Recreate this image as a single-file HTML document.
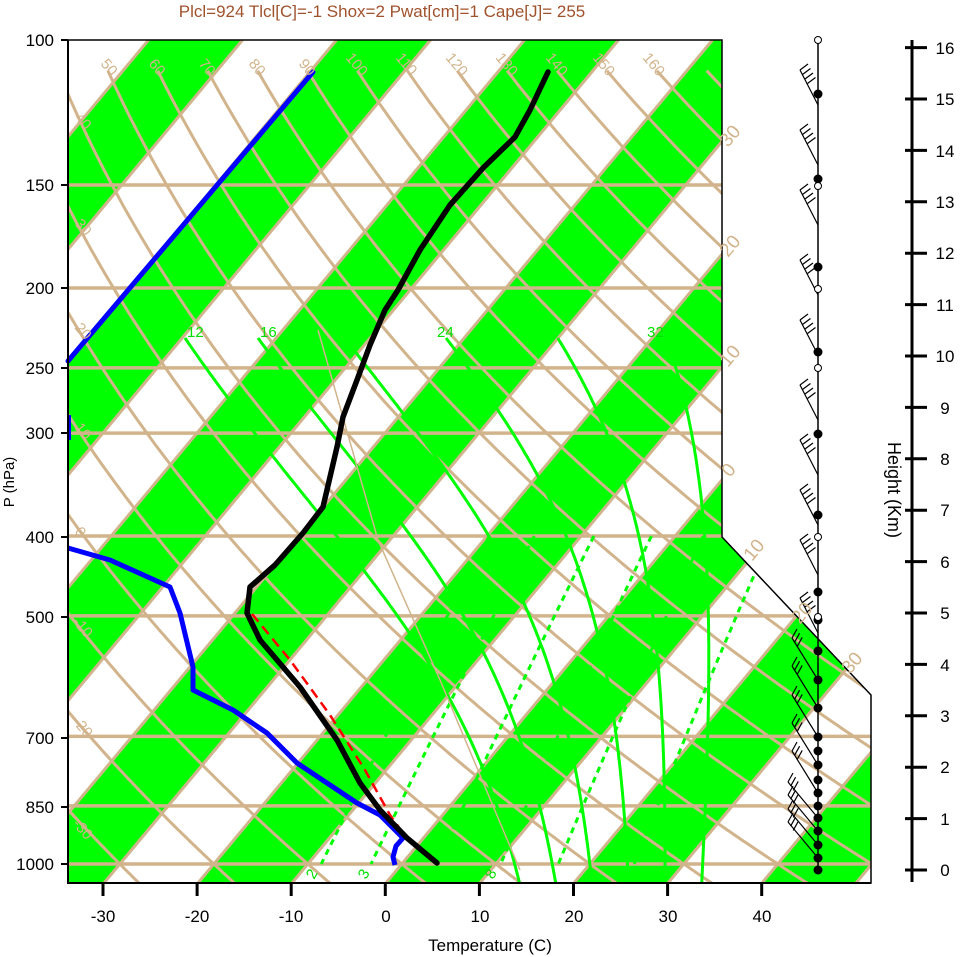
<!DOCTYPE html>
<html><head><meta charset="utf-8"><style>
html,body{margin:0;padding:0;background:#fff;width:961px;height:957px;overflow:hidden}
svg{display:block;font-family:"Liberation Sans",Arial,sans-serif}
</style></head><body>
<svg id="s" width="961" height="957" viewBox="0 0 961 957" xmlns="http://www.w3.org/2000/svg">
<defs><clipPath id="cp"><polygon points="68,40 722,40 722,537 871,695 871,883 68,883"/></clipPath></defs>
<g id="bg" clip-path="url(#cp)"></g>
<g id="fg"></g>
<text x="382" y="17" fill="#a0522d" font-size="17" text-anchor="middle">Plcl=924 Tlcl[C]=-1 Shox=2 Pwat[cm]=1 Cape[J]= 255</text>
<g font-size="17" fill="#000" text-anchor="end">
<text x="54" y="46">100</text><text x="54" y="191">150</text><text x="54" y="294">200</text>
<text x="54" y="374">250</text><text x="54" y="439">300</text><text x="54" y="543">400</text>
<text x="54" y="623">500</text><text x="54" y="744">700</text><text x="54" y="813">850</text>
<text x="54" y="870">1000</text></g>
<g font-size="17" fill="#000" text-anchor="middle">
<text x="103" y="922">-30</text><text x="197" y="922">-20</text><text x="291" y="922">-10</text>
<text x="386" y="922">0</text><text x="480" y="922">10</text><text x="574" y="922">20</text>
<text x="668" y="922">30</text><text x="762" y="922">40</text></g>
<text x="490" y="951" font-size="17" text-anchor="middle">Temperature (C)</text>
<text transform="translate(14,482) rotate(-90)" font-size="15" text-anchor="middle">P (hPa)</text>
<text transform="translate(888,490) rotate(90)" font-size="18" text-anchor="middle">Height (Km)</text>
<g font-size="17" fill="#000" text-anchor="middle">
<text x="945" y="876">0</text><text x="945" y="825">1</text><text x="945" y="773">2</text>
<text x="945" y="722">3</text><text x="945" y="671">4</text><text x="945" y="619">5</text>
<text x="945" y="568">6</text><text x="945" y="516">7</text><text x="945" y="465">8</text>
<text x="945" y="414">9</text><text x="945" y="362">10</text><text x="945" y="311">11</text>
<text x="945" y="259">12</text><text x="945" y="208">13</text><text x="945" y="157">14</text>
<text x="945" y="105">15</text><text x="945" y="54">16</text></g>
<g font-size="15" fill="#d2b48c">
<text transform="translate(100,64) rotate(50)">50</text><text transform="translate(148,64) rotate(50)">60</text>
<text transform="translate(198,64) rotate(50)">70</text><text transform="translate(248,64) rotate(50)">80</text>
<text transform="translate(298,64) rotate(50)">90</text><text transform="translate(345,58) rotate(50)">100</text>
<text transform="translate(395,58) rotate(50)">110</text><text transform="translate(445,58) rotate(50)">120</text>
<text transform="translate(495,58) rotate(50)">130</text><text transform="translate(545,58) rotate(50)">140</text>
<text transform="translate(592,58) rotate(50)">150</text><text transform="translate(642,58) rotate(50)">160</text>
<text transform="translate(74,118) rotate(50)">40</text><text transform="translate(74,224) rotate(50)">30</text>
<text transform="translate(74,328) rotate(50)">20</text><text transform="translate(74,428) rotate(50)">10</text>
<text transform="translate(74,532) rotate(50)">0</text><text transform="translate(72,622) rotate(50)">-10</text>
<text transform="translate(72,722) rotate(50)">-20</text><text transform="translate(72,824) rotate(50)">-30</text>
</g>
<g font-size="19" fill="#d2b48c">
<text transform="translate(728,148) rotate(-50)">30</text><text transform="translate(728,258) rotate(-50)">20</text>
<text transform="translate(728,368) rotate(-50)">10</text><text transform="translate(730,478) rotate(-50)">0</text>
<text transform="translate(752,562) rotate(-50)">10</text><text transform="translate(800,625) rotate(-50)">20</text>
<text transform="translate(850,675) rotate(-50)">30</text></g>
<g font-size="15" fill="#00e000">
<text x="187" y="337">12</text><text x="260" y="337">16</text><text x="437" y="337">24</text><text x="647" y="337">32</text>
<text transform="translate(314,880) rotate(-60)">2</text><text transform="translate(366,880) rotate(-60)">3</text>
<text transform="translate(493,880) rotate(-60)">8</text></g>
<script>
(function(){
var NS="http://www.w3.org/2000/svg";
var bg=document.getElementById('bg'),fg=document.getElementById('fg');
function el(par,tag,a){var e=document.createElementNS(NS,tag);for(var k in a)e.setAttribute(k,a[k]);par.appendChild(e);return e;}
function Y(p){return 864-357.9*Math.log(1000/p);}
function X(T,y){return 386+9.4*T+(883-y)/1.2;}
var TAN="#d2b48c",GR="#00ff00";
for(var T=-180;T<=60;T+=20){
  var pts=[[X(T,40),40],[X(T+10,40),40],[X(T+10,883),883],[X(T,883),883]];
  el(bg,'polygon',{points:pts.map(function(q){return q.join(',')}).join(' '),fill:GR});
}
for(var T=-180;T<=60;T+=10){
  el(bg,'line',{x1:X(T,40),y1:40,x2:X(T,883),y2:883,stroke:TAN,'stroke-width':3});
}
[150,200,250,300,400,500,700,850,1000].forEach(function(p){var y=Y(p);
  el(bg,'line',{x1:68,y1:y,x2:871,y2:y,stroke:TAN,'stroke-width':3.5});});
for(var th=-40;th<=170;th+=10){
  var d='';for(var p=109;p<=1060;p+=5){var y=Y(p);var T=(th+273.15)*Math.pow(p/1000,0.2857)-273.15;
    d+=(d?'L':'M')+X(T,y).toFixed(1)+','+y.toFixed(1);}
  el(bg,'path',{d:d,fill:'none',stroke:TAN,'stroke-width':3});
}
[2,3,5,8,12,20].forEach(function(w){
  var d='';for(var p=400;p<=1000;p+=10){var e=w*p/(622+w);var l=Math.log(e/6.112);var Td=243.5*l/(17.67-l);var y=Y(p);
    d+=(d?'L':'M')+X(Td,y).toFixed(1)+','+y.toFixed(1);}
  el(bg,'path',{d:d,fill:'none',stroke:GR,'stroke-width':3,'stroke-dasharray':'6,5'});
});
function es(Tc){return 6.112*Math.exp(17.67*Tc/(Tc+243.5));}
function dTdp(Tc,p){var T=Tc+273.15,e=es(Tc),rs=0.622*e/(p-e),Rd=287,Lv=2.5e6,cp=1004;
  return (1/p)*(Rd*T+Lv*rs)/(cp+Lv*Lv*rs*0.622/(Rd*T*T));}
[12,16,20,24,28,32].forEach(function(tw){
  var pts=[],T=tw,p;
  for(p=1000;p>=230;p-=2){pts.unshift([X(T,Y(p)),Y(p)]);T-=dTdp(T,p)*2;}
  T=tw;for(p=1000;p<=1060;p+=2){pts.push([X(T,Y(p)),Y(p)]);T+=dTdp(T,p)*2;}
  el(bg,'path',{d:'M'+pts.map(function(q){return q[0].toFixed(1)+','+q[1].toFixed(1)}).join('L'),fill:'none',stroke:GR,'stroke-width':3});
});
el(bg,'polyline',{points:'318,330 378,540 440,680 520,870',fill:'none',stroke:TAN,'stroke-width':1.5});
el(fg,'polyline',{points:'252,614 290,660 330,715 365,770 390,815 408,840',fill:'none',stroke:'#ff0000','stroke-width':2.5,'stroke-dasharray':'10,6'});
el(fg,'polyline',{points:'395,865 393,857 396,846 403,838 380,815 357,803 333,787 297,763 267,733 233,710 193,690 193,667 180,613 170,587 110,560 68,548',fill:'none',stroke:'#0000ff','stroke-width':5,'stroke-linejoin':'round'});
el(fg,'polyline',{points:'68,361 313,72',fill:'none',stroke:'#0000ff','stroke-width':5,'stroke-linecap':'round'});
el(fg,'line',{x1:69,y1:415,x2:69,y2:440,stroke:'#0000ff','stroke-width':4});
el(fg,'polyline',{points:'437,863 407,838 380,810 360,783 337,740 300,687 260,640 247,613 250,587 275,565 303,533 323,507 337,447 343,417 357,380 370,345 385,310 398,290 420,250 450,205 483,168 515,137 530,110 548,72',fill:'none',stroke:'#000','stroke-width':5.5,'stroke-linejoin':'round','stroke-linecap':'round'});
el(fg,'polygon',{points:'68,40 722,40 722,537 871,695 871,883 68,883',fill:'none',stroke:'#000','stroke-width':1.5});
el(fg,'line',{x1:68,y1:40,x2:68,y2:884,stroke:'#000','stroke-width':2});
el(fg,'line',{x1:68,y1:883,x2:871,y2:883,stroke:'#000','stroke-width':2});
[40,185,288,368,433,537,617,738,807,864].forEach(function(y){el(fg,'line',{x1:61,y1:y,x2:68,y2:y,stroke:'#000','stroke-width':2});});
for(var i=0;i<8;i++){var x=103+94.1*i;el(fg,'line',{x1:x,y1:883,x2:x,y2:896,stroke:'#000','stroke-width':3});}
el(fg,'line',{x1:912,y1:40,x2:912,y2:882,stroke:'#000','stroke-width':3});
for(var k=0;k<=16;k++){var y=870-51.4*k;el(fg,'line',{x1:905,y1:y,x2:927,y2:y,stroke:'#000','stroke-width':3});}
el(fg,'line',{x1:818,y1:40,x2:818,y2:870,stroke:'#000','stroke-width':1.5});
var filled=[94,179,267,352,434,515,592,620,651,680,708,737,751,765,780,793,806,818,831,845,858,870];
var open=[40,186,289,368,537,617];
var upper=[70,130,190,260,320,385,440,490,540,598];
upper.forEach(function(y){
  el(fg,'line',{x1:818,y1:y+35,x2:800,y2:y,stroke:'#000','stroke-width':1.2});
  for(var j=0;j<4;j++){var bx=800+j*2.5,by=y+j*4.5;el(fg,'line',{x1:bx,y1:by,x2:bx+8,y2:by-6,stroke:'#000','stroke-width':1.2});}
});
var lower=[680,708,737,765,793,818,831,845,858];
lower.forEach(function(y,i){
  var ex=818-26-(i>4?4:0),ey=y-42+(i>4?6:0);
  el(fg,'polyline',{points:'818,'+y+' '+ex+','+ey,fill:'none',stroke:'#000','stroke-width':1.2});
  for(var j=0;j<3;j++){var bx=ex+j*2.6,by=ey+j*4.2;el(fg,'line',{x1:bx,y1:by,x2:bx+5,y2:by-9,stroke:'#000','stroke-width':1.2});}
});
filled.forEach(function(y){el(fg,'circle',{cx:818,cy:y,r:4.5,fill:'#000'});});
open.forEach(function(y){el(fg,'circle',{cx:818,cy:y,r:3.5,fill:'#fff',stroke:'#000','stroke-width':1});});
})();
</script>
</svg>
</body></html>
